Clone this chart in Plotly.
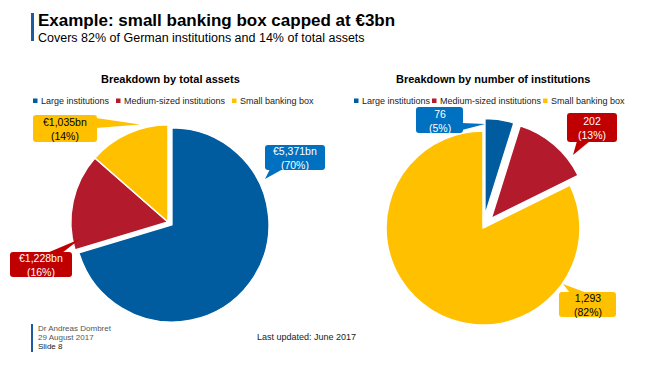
import plotly.graph_objects as go

# ---------------- data ----------------
categories = ["Large institutions", "Medium-sized institutions", "Small banking box"]
assets_bn = [5371, 1228, 1035]          # total assets, EUR bn
institutions = [76, 202, 1293]          # number of institutions

pie_colors = ["#005C9F", "#B31A2B", "#FFC000"]
callout_colors = ["#0070C0", "#C00000", "#FFC000"]
callout_text_colors = ["white", "white", "black"]

title = "Example: small banking box capped at €3bn"
subtitle = "Covers 82% of German institutions and 14% of total assets"
left_title = "Breakdown by total assets"
right_title = "Breakdown by number of institutions"
footer_lines = ["Dr Andreas Dombret", "29 August 2017", "Slide 8"]
footer_note = "Last updated: June 2017"

# the page body has an 8px default margin: size the figure to the visible area
OFF = 8
W, H = 650 - OFF, 366 - OFF
FONT = "Arial, Liberation Sans, sans-serif"


def px(x):
    return (x - OFF) / W


def py(y):
    return 1 - (y - OFF) / H


fig = go.Figure()

# ---------------- pies ----------------
fig.add_trace(go.Pie(
    labels=categories, values=assets_bn, sort=False, direction="clockwise",
    rotation=0, textinfo="none", hoverinfo="label+value+percent",
    marker=dict(colors=pie_colors, line=dict(color="white", width=1.5)),
    pull=[0.05, 0, 0], showlegend=False,
    domain=dict(x=[px(66), px(270)], y=[py(324), py(120)]),
))
fig.add_trace(go.Pie(
    labels=categories, values=institutions, sort=False, direction="clockwise",
    rotation=0, textinfo="none", hoverinfo="label+value+percent",
    marker=dict(colors=pie_colors, line=dict(color="white", width=1.5)),
    pull=[0.13, 0.13, 0], showlegend=False,
    domain=dict(x=[px(373.4), px(592.6)], y=[py(337.6), py(118.4)]),
))

shapes = []
annotations = []


def txt(x, y, text, size, color="#000", bold=False, xanchor="left", yanchor="middle", align="left"):
    if bold:
        text = f"<b>{text}</b>"
    annotations.append(dict(
        x=px(x), y=py(y), xref="paper", yref="paper", text=text, showarrow=False,
        xanchor=xanchor, yanchor=yanchor, align=align,
        font=dict(family=FONT, size=size, color=color),
    ))


# ---------------- header ----------------
shapes.append(dict(type="rect", xref="paper", yref="paper", x0=px(31), x1=px(34),
                   y0=py(41), y1=py(13), fillcolor="#1C5B9E", line=dict(width=0)))
txt(36, 20.5, title, 17, bold=True)
txt(36, 38.5, subtitle, 12.5)

# ---------------- panel titles ----------------
txt(171, 79, left_title, 11, bold=True, xanchor="center")
txt(493, 79, right_title, 11, bold=True, xanchor="center")

# ---------------- legends ----------------
left_legend_x = [33, 116, 232]
right_legend_x = [354, 432, 543]
for xs in (left_legend_x, right_legend_x):
    for i, cat in enumerate(categories):
        x0 = xs[i]
        shapes.append(dict(type="rect", xref="paper", yref="paper",
                           x0=px(x0), x1=px(x0 + 4.5), y0=py(103), y1=py(98.5),
                           fillcolor=pie_colors[i], line=dict(width=0)))
        txt(x0 + 5.5, 100.5, cat, 9, color="#222")


# ---------------- callouts ----------------
def rounded_box(x0, y0, x1, y1, r=3):
    pts = [
        ("M", [(x0 + r, y0)]), ("L", [(x1 - r, y0)]), ("Q", [(x1, y0), (x1, y0 + r)]),
        ("L", [(x1, y1 - r)]), ("Q", [(x1, y1), (x1 - r, y1)]), ("L", [(x0 + r, y1)]),
        ("Q", [(x0, y1), (x0, y1 - r)]), ("L", [(x0, y0 + r)]), ("Q", [(x0, y0), (x0 + r, y0)]),
    ]
    s = ""
    for cmd, ps in pts:
        s += cmd + " " + " ".join(f"{px(a):.5f},{py(b):.5f}" for a, b in ps) + " "
    return s + "Z"


def tail(b1, tip, b2):
    return (f"M {px(b1[0]):.5f},{py(b1[1]):.5f} L {px(tip[0]):.5f},{py(tip[1]):.5f} "
            f"L {px(b2[0]):.5f},{py(b2[1]):.5f} Z")


def callout(box, b1, tip, b2, color, text, tcolor):
    shapes.append(dict(type="path", xref="paper", yref="paper", path=rounded_box(*box),
                       fillcolor=color, line=dict(width=0)))
    shapes.append(dict(type="path", xref="paper", yref="paper", path=tail(b1, tip, b2),
                       fillcolor=color, line=dict(width=0)))
    cx = (box[0] + box[2]) / 2
    cy = (box[1] + box[3]) / 2
    txt(cx, cy + 0.5, text, 10.5, color=tcolor, xanchor="center", align="center")


tot_a = sum(assets_bn)
tot_n = sum(institutions)
asset_labels = [f"€{v:,}bn<br>({round(v / tot_a * 100)}%)" for v in assets_bn]
inst_labels = [f"{v:,}<br>({round(v / tot_n * 100)}%)" for v in institutions]

# callout layout positions in px
left_geo = [
    ((265, 145, 325, 170), (270, 169), (265, 179), (283, 169)),
    ((10, 252, 72, 277), (47, 253), (80, 239), (62, 253)),
    ((33, 115, 97, 142), (96, 118), (140, 124.5), (96, 128)),
]
right_geo = [
    ((416, 107, 463, 133), (462, 123), (485, 124), (462, 130)),
    ((567, 113, 617, 142), (577, 141), (573, 155), (590, 141)),
    ((559, 292, 616, 317), (570, 293), (563, 284), (587, 293)),
]
for i in range(3):
    box, b1, tip, b2 = left_geo[i]
    callout(box, b1, tip, b2, callout_colors[i], asset_labels[i], callout_text_colors[i])
    box, b1, tip, b2 = right_geo[i]
    callout(box, b1, tip, b2, callout_colors[i], inst_labels[i], callout_text_colors[i])

# ---------------- footer ----------------
shapes.append(dict(type="rect", xref="paper", yref="paper", x0=px(31), x1=px(33),
                   y0=py(352), y1=py(324), fillcolor="#1C5B9E", line=dict(width=0)))
txt(36, 328, footer_lines[0], 8, color="#555")
txt(36, 337, footer_lines[1], 8, color="#555")
txt(36, 346, footer_lines[2], 8, color="#222")
txt(255, 337, footer_note, 9, color="#222")

fig.update_layout(
    width=W, height=H, margin=dict(l=0, r=0, t=0, b=0),
    paper_bgcolor="white", plot_bgcolor="white",
    shapes=shapes, annotations=annotations, showlegend=False,
)

fig.write_html("out.html")
